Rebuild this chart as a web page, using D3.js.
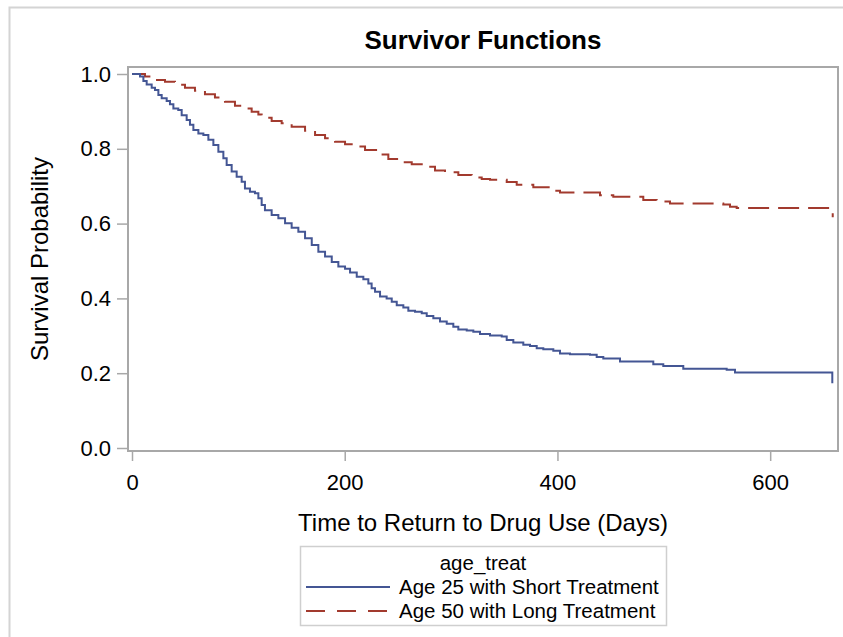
<!DOCTYPE html>
<html>
<head>
<meta charset="utf-8">
<script src="https://cdn.jsdelivr.net/npm/d3@7"></script>
<style>
  body { margin: 0; background: #fff; }
  text { font-family: "Liberation Sans", Arial, sans-serif; fill: #000; }
</style>
</head>
<body>
<div id="chart"></div>
<script>
// survival estimates (days, probability)
var shortDays = [0, 7.5, 10.7, 13.8, 18.5, 21.6, 24.8, 27.9, 32.6, 35.7, 38.9, 43.5, 46.7, 51.4, 54.5, 57.7, 62.4, 67.1, 71.8, 76.5, 81.2, 85.9, 89, 93.7, 98.4, 103.1, 106.2, 110.9, 115.6, 118.8, 121.9, 125, 131.3, 137.6, 143.9, 150.1, 156.4, 162.7, 169, 175.2, 181.5, 187.8, 194, 200.3, 205, 211.3, 217.5, 222.2, 225.3, 228.5, 233.2, 239.4, 244.2, 248.9, 255.1, 259.8, 266.1, 272.4, 277.1, 283.3, 289.6, 295.9, 302.1, 306.8, 314.7, 320.9, 327.2, 336.6, 347.6, 352.3, 358.5, 367.9, 374.2, 380.5, 386.7, 396.1, 402.4, 411.8, 430.6, 436.9, 443.1, 458.8, 490.1, 499.5, 518.3, 559.1, 566.9, 658.4];
var shortSurv = [1.0, 0.993, 0.981, 0.972, 0.963, 0.957, 0.944, 0.935, 0.928, 0.919, 0.908, 0.904, 0.890, 0.877, 0.864, 0.850, 0.841, 0.837, 0.824, 0.810, 0.792, 0.775, 0.757, 0.739, 0.725, 0.712, 0.694, 0.685, 0.681, 0.668, 0.650, 0.636, 0.623, 0.614, 0.601, 0.589, 0.578, 0.561, 0.543, 0.525, 0.512, 0.497, 0.485, 0.479, 0.469, 0.458, 0.451, 0.440, 0.427, 0.418, 0.405, 0.400, 0.391, 0.382, 0.376, 0.367, 0.364, 0.360, 0.353, 0.347, 0.338, 0.332, 0.324, 0.317, 0.314, 0.311, 0.305, 0.301, 0.298, 0.289, 0.282, 0.276, 0.273, 0.267, 0.264, 0.260, 0.253, 0.251, 0.249, 0.243, 0.239, 0.231, 0.224, 0.219, 0.212, 0.209, 0.202, 0.173];
var longDays = [0, 12.2, 21.6, 31, 40.4, 49.8, 59.2, 68.6, 78, 87.4, 96.8, 104.6, 112.5, 118.8, 121.9, 131.3, 140.7, 150.1, 162.7, 172.1, 181.5, 190.9, 200.3, 209.7, 219.1, 231.6, 241, 250.4, 263, 272.4, 284.9, 294.3, 306.8, 319.4, 328.8, 336.6, 352.3, 361.7, 377.3, 396.1, 402.4, 440, 452.5, 480.7, 493.3, 505.8, 555.9, 562.2, 568.5, 658.8];
var longSurv = [1.0, 0.993, 0.984, 0.979, 0.971, 0.963, 0.955, 0.946, 0.937, 0.926, 0.915, 0.908, 0.899, 0.892, 0.883, 0.874, 0.868, 0.859, 0.848, 0.837, 0.828, 0.819, 0.812, 0.806, 0.797, 0.785, 0.773, 0.764, 0.759, 0.752, 0.742, 0.737, 0.730, 0.723, 0.719, 0.717, 0.711, 0.704, 0.697, 0.688, 0.683, 0.676, 0.672, 0.663, 0.659, 0.654, 0.651, 0.645, 0.642, 0.617];
var seriesNames = ["Age 25 with Short Treatment", "Age 50 with Long Treatment"];
var xTicks = [0, 200, 400, 600];
var yTicks = [0, 0.2, 0.4, 0.6, 0.8, 1.0];

var width = 843, height = 637;
var frame = {left: 128, top: 67, right: 838, bottom: 451};
var blue = "#445694", red = "#A23A2E", axisGray = "#a8a8a8";

var svg = d3.select("#chart").append("svg")
    .attr("width", width)
    .attr("height", height);

// outer border
svg.append("rect")
   .attr("x", 9.5).attr("y", 7.5)
   .attr("width", width + 10).attr("height", height + 10)
   .attr("fill", "none")
   .attr("stroke", "#d4d4d4")
   .attr("stroke-width", 2);

var x = d3.scaleLinear().domain([0, 660]).range([132, 834]);
var y = d3.scaleLinear().domain([0, 1]).range([448, 74]);

// title
svg.append("text")
   .attr("x", 483).attr("y", 49)
   .attr("text-anchor", "middle")
   .attr("font-size", 26)
   .attr("font-weight", "bold")
   .text("Survivor Functions");

// axes
var yAxis = svg.append("g")
   .attr("transform", "translate(" + frame.left + ",0)")
   .call(d3.axisLeft(y).tickValues(yTicks).tickFormat(d3.format(".1f")).tickSize(11).tickPadding(6));
var xAxis = svg.append("g")
   .attr("transform", "translate(0," + frame.bottom + ")")
   .call(d3.axisBottom(x).tickValues(xTicks).tickFormat(d3.format("d")).tickSize(10).tickPadding(13));

[xAxis, yAxis].forEach(function(g){
  g.select(".domain").remove();
  g.selectAll(".tick line").attr("stroke", axisGray).attr("stroke-width", 1.5);
  g.selectAll(".tick text")
   .attr("font-family", "Liberation Sans, Arial, sans-serif")
   .attr("font-size", 22)
   .attr("fill", "#000");
});

// plot frame
svg.append("rect")
   .attr("x", frame.left).attr("y", frame.top)
   .attr("width", frame.right - frame.left)
   .attr("height", frame.bottom - frame.top)
   .attr("fill", "none")
   .attr("stroke", axisGray)
   .attr("stroke-width", 2);

// axis labels
svg.append("text")
   .attr("x", 483).attr("y", 531)
   .attr("text-anchor", "middle")
   .attr("font-size", 24)
   .text("Time to Return to Drug Use (Days)");
svg.append("text")
   .attr("transform", "translate(48,259) rotate(-90)")
   .attr("text-anchor", "middle")
   .attr("font-size", 24)
   .text("Survival Probability");

// curves
var line = d3.line()
   .x(function(d){ return x(d[0]); })
   .y(function(d){ return y(d[1]); })
   .curve(d3.curveStepAfter);

svg.append("path")
   .datum(d3.zip(longDays, longSurv))
   .attr("d", line)
   .attr("fill", "none")
   .attr("stroke", red)
   .attr("stroke-width", 2)
   .attr("stroke-dasharray", "21,9");
svg.append("path")
   .datum(d3.zip(shortDays, shortSurv))
   .attr("d", line)
   .attr("fill", "none")
   .attr("stroke", blue)
   .attr("stroke-width", 2);

// legend
var legend = svg.append("g");
legend.append("rect")
   .attr("x", 300.5).attr("y", 546.5)
   .attr("width", 366).attr("height", 79)
   .attr("fill", "none")
   .attr("stroke", "#cfcfcf")
   .attr("stroke-width", 1.5);
legend.append("text")
   .attr("x", 483).attr("y", 570)
   .attr("text-anchor", "middle")
   .attr("font-size", 20.5)
   .text("age_treat");

var legendColors = [blue, red], legendDash = [null, "19,12"];
seriesNames.forEach(function(name, i){
  var ly = 587 + i * 24;
  legend.append("line")
     .attr("x1", 306).attr("x2", 390)
     .attr("y1", ly).attr("y2", ly)
     .attr("stroke", legendColors[i])
     .attr("stroke-width", 2)
     .attr("stroke-dasharray", legendDash[i]);
  legend.append("text")
     .attr("x", 399).attr("y", ly + 7)
     .attr("font-size", 20.5)
     .text(name);
});
</script>
</body>
</html>
